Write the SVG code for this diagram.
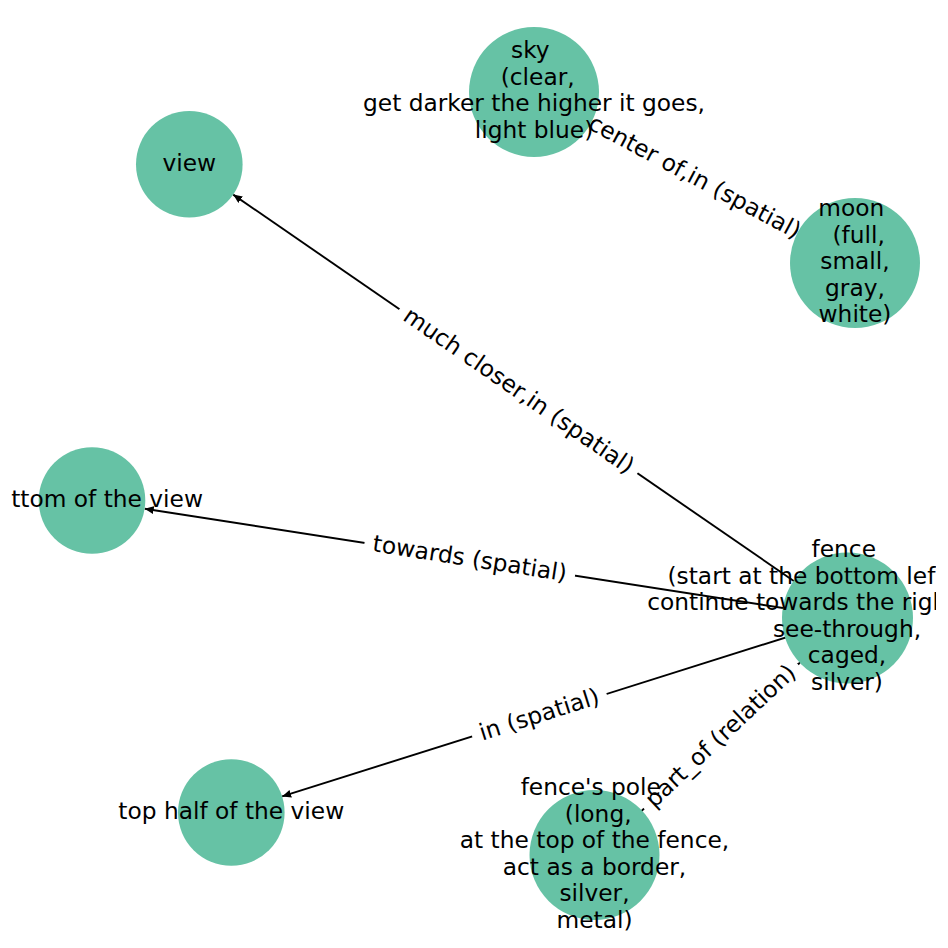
<svg xmlns="http://www.w3.org/2000/svg" width="948" height="948" viewBox="0 0 948 948">
<style>
text{font-family:"DejaVu Sans","Liberation Sans",sans-serif;font-size:23.3px;fill:#000}
.nl{text-anchor:middle}
.node{fill:#66c2a5}
.edge{stroke:#000;stroke-width:1.9;fill:none}
.lbox{fill:#fff;stroke:#fff}
.el{text-anchor:middle}
</style>
<defs>
<marker id="arr" markerUnits="userSpaceOnUse" markerWidth="12" markerHeight="10" refX="9" refY="4" orient="auto">
<path d="M0,0 L9,4 L0,8 z" fill="#000"/>
</marker>
<clipPath id="ax"><rect x="11" y="11" width="925" height="926"/></clipPath>
</defs>
<rect width="948" height="948" fill="#fff"/>
<g id="connectors">
<line class="edge" x1="847.5" y1="618" x2="233.2" y2="194.6" marker-end="url(#arr)"/>
<line class="edge" x1="847.5" y1="618" x2="144.7" y2="508.7" marker-end="url(#arr)"/>
<line class="edge" x1="847.5" y1="618" x2="282.1" y2="796.4" marker-end="url(#arr)"/>
<line class="edge" x1="594.5" y1="855" x2="800.1" y2="662.4" marker-end="url(#arr)"/>
<line class="edge" x1="855" y1="263" x2="591.3" y2="122.5" marker-end="url(#arr)"/>
<g transform="translate(518.4,391.2) rotate(34.58)"><rect class="lbox" x="-144" y="-20" width="288" height="40" rx="7"/><text class="el" y="7">much closer,in (spatial)</text></g>
<g transform="translate(469.75,559.25) rotate(8.84)"><rect class="lbox" x="-106" y="-20" width="212" height="40" rx="7"/><text class="el" y="7">towards (spatial)</text></g>
<g transform="translate(539.4,715.25) rotate(-17.5)"><rect class="lbox" x="-70" y="-20" width="140" height="40" rx="7"/><text class="el" y="7">in (spatial)</text></g>
<g transform="translate(721,736.5) rotate(-43.13)"><rect class="lbox" x="-105" y="-20" width="210" height="40" rx="7"/><text class="el" y="7">part_of (relation)</text></g>
<g transform="translate(694.5,177.5) rotate(28.05)"><rect class="lbox" x="-124" y="-20" width="248" height="40" rx="7"/><text class="el" y="7">center of,in (spatial)</text></g>
</g>
<g id="node-sky"><circle class="node" cx="534" cy="92" r="65"/>
<g clip-path="url(#ax)"><text class="nl" x="530.3" y="58">sky</text><text class="nl" x="537.7" y="84.5">(clear,</text><text class="nl" x="534" y="111">get darker the higher it goes,</text><text class="nl" x="534" y="137.5">light blue)</text></g></g>
<g id="node-view"><circle class="node" cx="189.3" cy="164.3" r="53.3"/>
<text class="nl" x="189.3" y="171">view</text></g>
<g id="node-moon"><circle class="node" cx="855" cy="263" r="65"/>
<g clip-path="url(#ax)"><text class="nl" x="851.3" y="216">moon</text><text class="nl" x="858.7" y="242.5">(full,</text><text class="nl" x="855" y="269">small,</text><text class="nl" x="855" y="295.5">gray,</text><text class="nl" x="855" y="322">white)</text></g></g>
<g id="node-bottom"><circle class="node" cx="92" cy="500.5" r="53.3"/>
<g clip-path="url(#ax)"><text x="11.2" y="507">ttom of the view</text></g></g>
<g id="node-fence"><circle class="node" cx="847.5" cy="618" r="65.5"/>
<g clip-path="url(#ax)"><text class="nl" x="843.8" y="557.25">fence</text><text x="667.5" y="583.75">(start at the bottom lef</text><text x="647.2" y="610.25">continue towards the righ</text><text class="nl" x="847" y="636.75">see-through,</text><text class="nl" x="847" y="663.25">caged,</text><text class="nl" x="847" y="689.75">silver)</text></g></g>
<g id="node-tophalf"><circle class="node" cx="231.3" cy="812.5" r="53.3"/>
<text class="nl" x="231.3" y="819">top half of the view</text></g>
<g id="node-pole"><circle class="node" cx="594.5" cy="855" r="65"/>
<g clip-path="url(#ax)"><text class="nl" x="590.8" y="795">fence's pole</text><text class="nl" x="598.2" y="821.5">(long,</text><text class="nl" x="594.5" y="848">at the top of the fence,</text><text class="nl" x="594.5" y="874.5">act as a border,</text><text class="nl" x="594.5" y="901">silver,</text><text class="nl" x="594.5" y="927.5">metal)</text></g></g>
</svg>
